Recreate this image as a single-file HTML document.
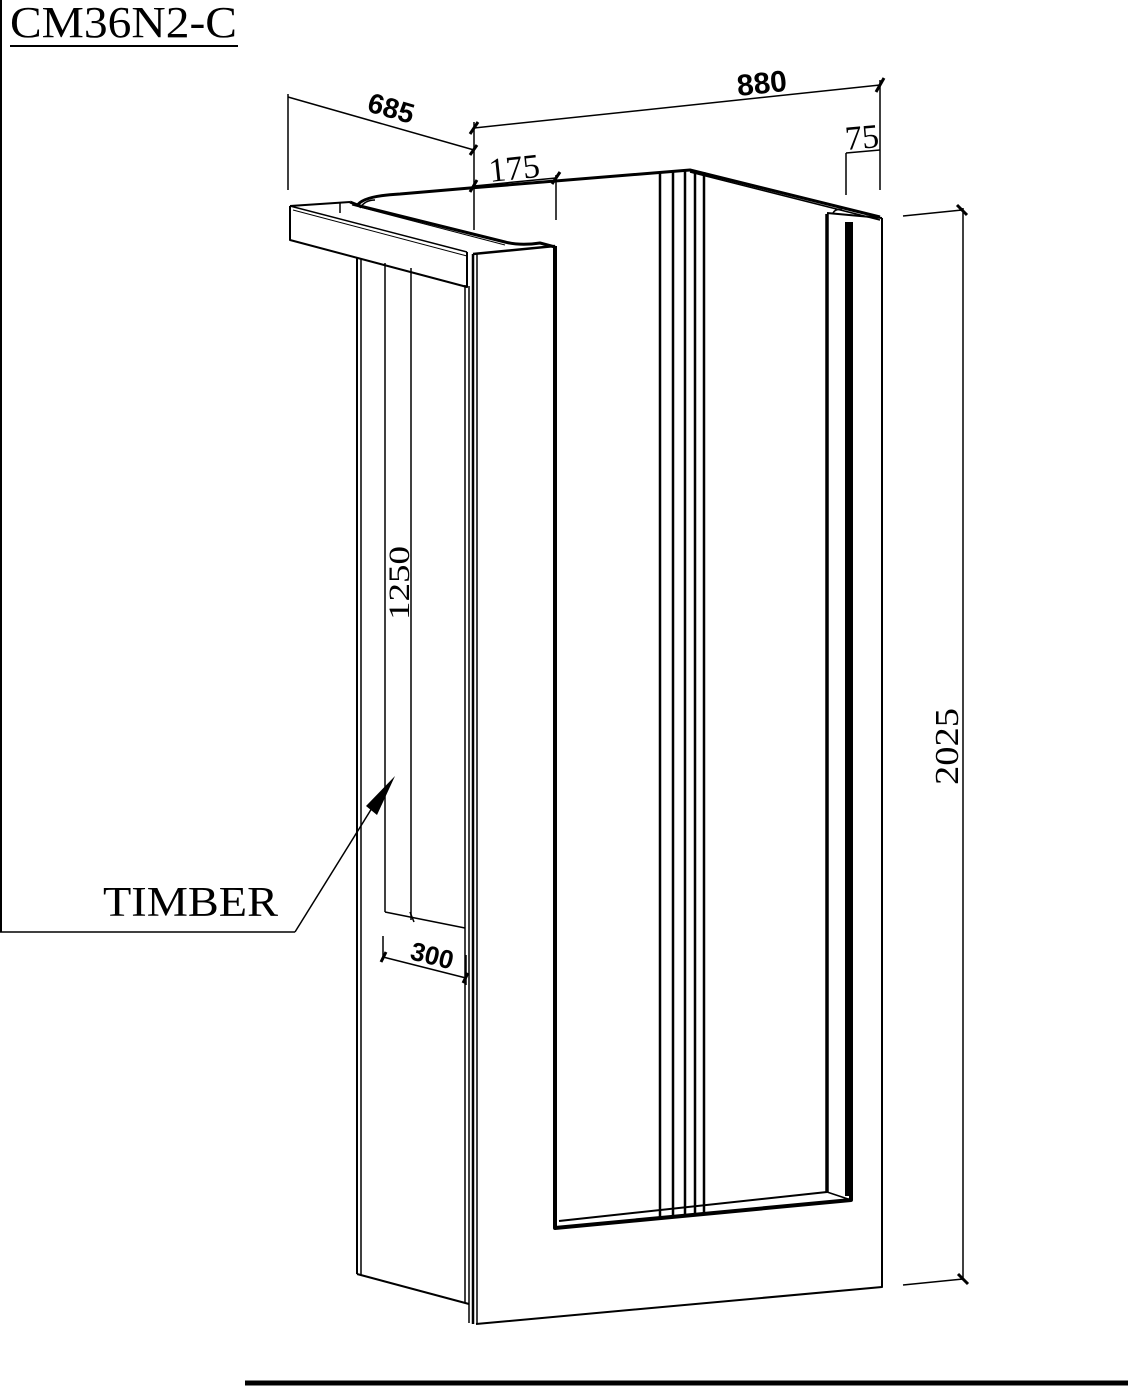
<!DOCTYPE html>
<html><head><meta charset="utf-8"><style>
html,body{margin:0;padding:0;background:#fff;}
svg{display:block;}
text{font-family:"Liberation Serif",serif;fill:#000;}
.n{font-family:"Liberation Sans Narrow","Liberation Sans",sans-serif;font-weight:bold;}
</style></head><body>
<svg width="1128" height="1386" viewBox="0 0 1128 1386" xmlns="http://www.w3.org/2000/svg" fill="none" stroke="#000" stroke-linejoin="round">
<!-- borders -->
<line x1="1" y1="0" x2="1" y2="932" stroke-width="2"/>
<line x1="0" y1="932" x2="295" y2="932" stroke-width="1.5"/>
<line x1="245" y1="1383" x2="1128" y2="1383" stroke-width="5"/>
<text x="10" y="37" font-size="44" stroke="none" textLength="227" lengthAdjust="spacingAndGlyphs">CM36N2-C</text>
<line x1="10" y1="46" x2="238" y2="46" stroke-width="2"/>

<!-- back top edge -->
<path d="M357,206 Q362,196 400,194 L470,188 L690,170 L880,217" stroke-width="3"/>
<path d="M690,172 L880,220" stroke-width="1.5"/>
<!-- grooves -->
<g stroke-width="2.5">
<line x1="660" y1="172" x2="660" y2="1218"/>
<line x1="673" y1="171" x2="673" y2="1217"/>
<line x1="685" y1="171" x2="685" y2="1216"/>
<line x1="695" y1="171" x2="695" y2="1215"/>
<line x1="704" y1="172" x2="704" y2="1214"/>
</g>

<!-- header -->
<path d="M290,206 L350,202" stroke-width="2"/>
<path d="M290,206 L290,240 L467,287 L467,252" stroke-width="2"/>
<path d="M290,206 L467,252" stroke-width="1.5"/>
<path d="M293,210 L467,256" stroke-width="1"/>
<line x1="340" y1="202" x2="340" y2="213" stroke-width="1.5"/>
<path d="M350,202 L360,206 L505,242 Q520,246 540,243 L555,247" stroke-width="3"/>
<path d="M352,205 L505,245" stroke-width="1"/>
<path d="M360,208 Q365,200 375,200" stroke-width="1.5"/>

<!-- left side panel -->
<line x1="357" y1="258" x2="357" y2="1274" stroke-width="2"/>
<line x1="361" y1="259" x2="361" y2="1275" stroke-width="1.5"/>
<line x1="357" y1="1274" x2="469" y2="1304" stroke-width="2"/>
<line x1="385" y1="263" x2="385" y2="912" stroke-width="1.5"/>
<line x1="411" y1="268" x2="411" y2="920" stroke-width="1.5"/>
<line x1="385" y1="912" x2="465" y2="928" stroke-width="1.5"/>
<line x1="465" y1="285" x2="465" y2="1303" stroke-width="1.5"/>
<line x1="469" y1="286" x2="469" y2="1323" stroke-width="1.5"/>

<!-- front frame -->
<path d="M473,254 L555,246" stroke-width="2.5"/>
<line x1="473" y1="254" x2="473" y2="1324" stroke-width="2.5"/>
<line x1="477" y1="254" x2="477" y2="1324" stroke-width="1.5"/>
<path d="M476,1324 L882,1287 L882,218" stroke-width="2"/>
<path d="M555,246 L555,1228 L851,1200 L851,222" stroke-width="4"/>
<path d="M559,1221 L827,1192" stroke-width="2"/>
<path d="M827,1192 L851,1200" stroke-width="1.5"/>
<path d="M827,214 L827,1192" stroke-width="3.5"/>
<path d="M827,213 L882,218" stroke-width="2"/>
<path d="M833,213 Q836,208 842,210" stroke-width="1.5"/>
<line x1="847" y1="222" x2="847" y2="1196" stroke-width="4"/>

<!-- dimensions -->
<g stroke-width="1.5">
<line x1="474" y1="128" x2="880" y2="85"/>
<line x1="474" y1="122" x2="474" y2="230"/>
<line x1="880" y1="80" x2="880" y2="190"/>
<line x1="288" y1="97" x2="474" y2="150"/>
<line x1="288" y1="94" x2="288" y2="190"/>
<line x1="474" y1="186" x2="556" y2="178"/>
<line x1="556" y1="175" x2="556" y2="220"/>
<line x1="846" y1="153" x2="880" y2="150"/>
<line x1="846" y1="153" x2="846" y2="195"/>
<line x1="903" y1="216" x2="962" y2="210"/>
<line x1="903" y1="1285" x2="963" y2="1279"/>
<line x1="963" y1="208" x2="963" y2="1280"/>
<line x1="383" y1="936" x2="383" y2="960"/>
<line x1="383" y1="957" x2="466" y2="978"/>
<line x1="466" y1="955" x2="466" y2="985"/>
<line x1="410" y1="912" x2="414" y2="922"/>
</g>
<g stroke-width="3">
<line x1="470" y1="134" x2="478" y2="122"/>
<line x1="876" y1="92" x2="884" y2="78"/>
<line x1="470" y1="155" x2="477" y2="145"/>
<line x1="470" y1="192" x2="477" y2="180"/>
<line x1="552" y1="184" x2="560" y2="172"/>
<line x1="957" y1="205" x2="967" y2="215"/>
<line x1="958" y1="1274" x2="968" y2="1284"/>
<line x1="381" y1="962" x2="386" y2="952"/>
<line x1="463" y1="983" x2="468" y2="973"/>
</g>
<text class="n" x="0" y="0" font-size="30" stroke="none" transform="translate(738,96) rotate(-6)">880</text>
<text class="n" x="0" y="0" font-size="28" stroke="none" transform="translate(366,111) rotate(16)">685</text>
<text x="0" y="0" font-size="34" stroke="none" transform="translate(490,182) rotate(-6)">175</text>
<text x="0" y="0" font-size="34" stroke="none" transform="translate(846,150) rotate(-5)">75</text>
<text x="0" y="0" font-size="34" stroke="none" textLength="77" lengthAdjust="spacingAndGlyphs" transform="translate(958,785) rotate(-90)">2025</text>
<text x="0" y="0" font-size="30" stroke="none" textLength="74" lengthAdjust="spacingAndGlyphs" transform="translate(409,620) rotate(-90)">1250</text>
<text class="n" x="0" y="0" font-size="26" stroke="none" transform="translate(409,959) rotate(14)">300</text>

<!-- TIMBER label -->
<text x="103" y="916" font-size="42" stroke="none" textLength="175" lengthAdjust="spacingAndGlyphs">TIMBER</text>
<path d="M295,932 L372,808" stroke-width="1.5"/>
<path d="M395,776 L366,806 L377,815 Z" fill="#000" stroke="none"/>
</svg>
</body></html>
